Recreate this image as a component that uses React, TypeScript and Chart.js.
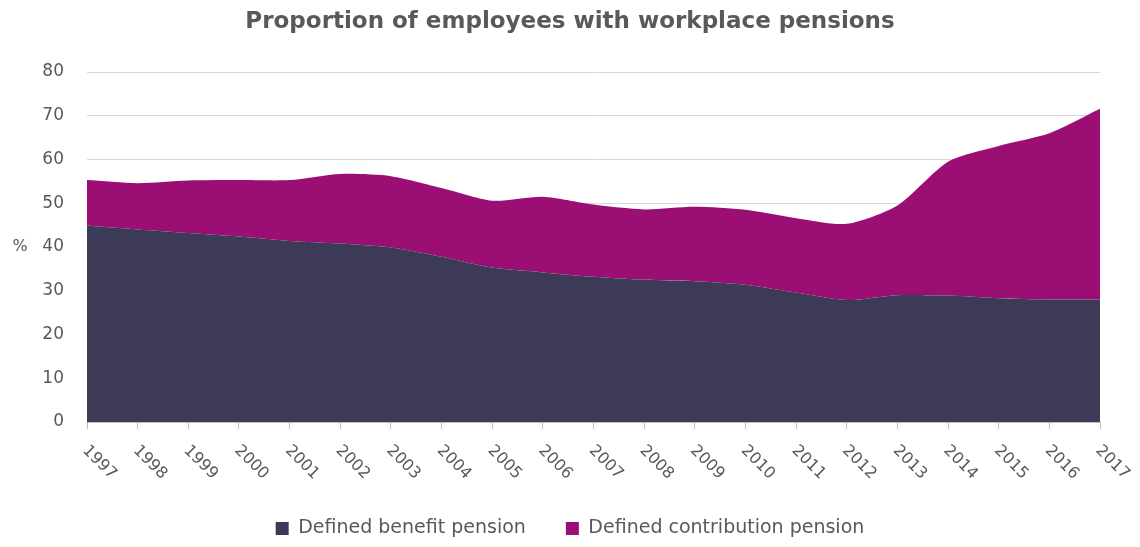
import React, { useEffect, useRef } from "react";
import { Chart, registerables } from "chart.js";

Chart.register(...registerables);

const years = ["1997","1998","1999","2000","2001","2002","2003","2004","2005","2006","2007","2008","2009","2010","2011","2012","2013","2014","2015","2016","2017"];
const definedBenefit = [44.9, 44.0, 43.2, 42.4, 41.4, 40.8, 39.9, 37.8, 35.3, 34.2, 33.2, 32.5, 32.2, 31.4, 29.6, 27.9, 29.0, 28.9, 28.3, 28.0, 28.0];
const totalPension = [55.3, 54.6, 55.2, 55.3, 55.3, 56.7, 56.2, 53.5, 50.6, 51.5, 49.7, 48.6, 49.2, 48.5, 46.6, 45.3, 49.5, 59.5, 63.1, 66.0, 71.6];
const definedContribution = totalPension.map((t, i) => +(t - definedBenefit[i]).toFixed(1));
const yTicks = [0, 10, 20, 30, 40, 50, 60, 70, 80];

const TEXT = "#595959";
const FONT = "'DejaVu Sans', sans-serif";

const extrasPlugin = {
  id: "extras",
  afterDraw(chart: any) {
    const ctx = chart.ctx;
    const xs = chart.scales.x;
    const ca = chart.chartArea;
    ctx.save();
    ctx.fillStyle = TEXT;
    ctx.font = `16px ${FONT}`;
    ctx.textAlign = "left";
    ctx.textBaseline = "middle";
    years.forEach((label, i) => {
      const x = xs.getPixelForValue(i);
      ctx.save();
      ctx.translate(x - 2, ca.bottom + 26);
      ctx.rotate(Math.PI / 4);
      ctx.fillText(label, 0, 0);
      ctx.restore();
    });
    ctx.textAlign = "center";
    ctx.fillText("%", 20, (ca.top + ca.bottom) / 2);
    ctx.restore();
  },
};

export default function App() {
  const ref = useRef<HTMLCanvasElement>(null);
  useEffect(() => {
    if (!ref.current) return;
    const chart = new Chart(ref.current, {
      type: "line",
      data: {
        labels: years,
        datasets: [
          {
            label: "Defined benefit pension",
            data: definedBenefit,
            backgroundColor: "#3c3a57",
            borderColor: "#3c3a57",
            borderWidth: 0,
            pointRadius: 0,
            fill: "origin",
            tension: 0.25,
          },
          {
            label: "Defined contribution pension",
            data: definedContribution,
            backgroundColor: "#9b0e74",
            borderColor: "#9b0e74",
            borderWidth: 0,
            pointRadius: 0,
            fill: "-1",
            tension: 0.25,
          },
        ],
      },
      plugins: [extrasPlugin],
      options: {
        animation: false,
        responsive: false,
        maintainAspectRatio: false,
        layout: { padding: { left: 40, right: 40, top: 0, bottom: -1 } },
        plugins: {
          title: {
            display: true,
            text: "Proportion of employees with workplace pensions",
            color: TEXT,
            font: { family: FONT, size: 23, weight: "bold" },
            padding: { top: 8, bottom: 36.4 },
          },
          legend: {
            position: "bottom",
            labels: {
              color: TEXT,
              font: { family: FONT, size: 19 },
              boxWidth: 13,
              boxHeight: 13,
              padding: 40,
            },
          },
          tooltip: { enabled: false },
        },
        scales: {
          x: {
            offset: false,
            grid: {
              drawOnChartArea: false,
              drawTicks: true,
              tickLength: 7,
              color: "#bfbfbf",
            },
            border: { color: "#bfbfbf", width: 1 },
            ticks: {
              color: "rgba(0,0,0,0)",
              font: { family: FONT, size: 16 },
              maxRotation: 45,
              minRotation: 45,
              autoSkip: false,
            },
            afterFit: (s: any) => {
              s.height = 57;
            },
          },
          y: {
            stacked: true,
            min: 0,
            max: 80,
            afterBuildTicks: (s: any) => {
              s.ticks = yTicks.map((v) => ({ value: v }));
            },
            grid: { color: "#d9d9d9", drawTicks: false },
            border: { display: false },
            ticks: {
              color: TEXT,
              font: { family: FONT, size: 17 },
              padding: 23,
            },
            afterFit: (s: any) => {
              s.width = 47;
            },
          },
        },
      },
    });
    return () => chart.destroy();
  }, []);
  return (
    <div style={{ position: "fixed", left: 0, top: 0, width: 1140, height: 547, background: "#fff" }}>
      <canvas ref={ref} width={1140} height={547} style={{ width: 1140, height: 547 }} />
    </div>
  );
}
